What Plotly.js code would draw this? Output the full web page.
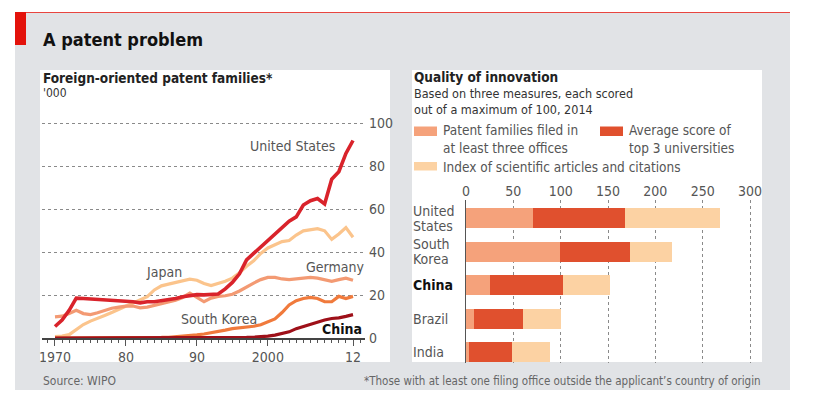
<!DOCTYPE html>
<html>
<head>
<meta charset="utf-8">
<script src="https://cdn.plot.ly/plotly-3.0.1.min.js"></script>
<style>html,body{margin:0;padding:0;background:#fff;}#chart{width:814px;height:404px;}</style>
</head>
<body>
<div id="chart"></div>
<script>
// ---------- Data: foreign-oriented patent families ('000) ----------
const years = [];
for (let y = 1970; y <= 2012; y++) years.push(y);

const usValues = [5.5, 8.5, 13, 18.7, 18.5, 18.3, 18, 18.2, 18, 17.8,
  17.5, 17, 16.5, 17, 17, 17.4, 17.8, 18.5, 19.3, 19.8,
  20.3, 20.2, 20.4, 20.6, 23, 26, 30, 36.5, 39.5, 42.5,
  46, 49, 52, 54.5, 56.5, 62, 64, 65, 62.5, 74,
  77.5, 86, 92];
const japanValues = [0.8, 1, 1.7, 4, 6.4, 8, 9.5, 10.6, 12, 13.4,
  15, 16.3, 17.7, 19.4, 22.5, 24.4, 25.2, 26, 26.7, 27.5,
  27, 25.5, 24.5, 25.5, 26.5, 28, 30.5, 33.5, 36, 39.5,
  42, 43.5, 45, 45.5, 48, 50, 50.5, 51, 50, 46,
  48.5, 51.5, 47];
const germanyValues = [10, 10.3, 11.5, 13, 11.5, 11, 11.9, 13, 14, 14.5,
  15, 15, 14.2, 14.5, 15.3, 15.8, 16.6, 17.7, 19, 21,
  19, 17, 18.7, 19.5, 19.8, 20.5, 22, 24, 25.7, 27.3,
  28.3, 28.3, 27.6, 27.3, 27.6, 28, 28.3, 28, 27.3, 26.5,
  27.3, 28, 27];
const koreaValues = [0.1, 0.1, 0.1, 0.1, 0.1, 0.1, 0.1, 0.1, 0.1, 0.2,
  0.2, 0.2, 0.2, 0.3, 0.3, 0.4, 0.5, 0.7, 0.9, 1.2,
  1.6, 2.0, 2.5, 3.0, 3.8, 4.5, 4.8, 5.2, 5.6, 6.3,
  7.5, 9, 12, 15.5, 17.5, 18.5, 19, 18.5, 17, 17,
  19.5, 18.5, 19.5];
const chinaValues = [0.05, 0.05, 0.05, 0.05, 0.05, 0.05, 0.05, 0.05, 0.05, 0.05,
  0.05, 0.05, 0.05, 0.05, 0.05, 0.05, 0.05, 0.05, 0.05, 0.05,
  0.05, 0.1, 0.1, 0.15, 0.2, 0.25, 0.3, 0.4, 0.5, 0.7,
  1.0, 1.5, 2.2, 3.0, 4.5, 5.5, 6.3, 7.6, 8.5, 9.2,
  9.5, 10.2, 11];

const lineTickVals = [1970, 1980, 1990, 2000, 2012];
const lineTickText = ["1970", "80", "90", "2000", "12"];
const lineYTicks = [0, 20, 40, 60, 80, 100];

// ---------- Data: quality of innovation (2014) ----------
const countries = ["United States", "South Korea", "China", "Brazil", "India"];
const countryLabels = ["United<br>States", "South<br>Korea", "<b>China</b>", "Brazil", "India"];
const patentScores = [71, 99, 25, 8, 3];
const universityScores = [97, 74.5, 77, 52, 46];
const scienceScores = [100, 44, 50, 40, 40];
const barTickVals = [0, 50, 100, 150, 200, 250, 300];
const seriesNames = ["Patent families filed in<br>at least three offices",
  "Average score of<br>top 3 universities",
  "Index of scientific articles and citations"];

// ---------- Styling ----------
const W = 814, H = 404;
const fx = p => p / W;
const fy = p => 1 - p / H;
const FONT = '"DejaVu Sans Condensed", "Liberation Sans Narrow", Roboto, sans-serif';
const GREY = '#555';
const cUS = '#d9232b', cJP = '#fbc48c', cDE = '#f39a73', cKR = '#f07a3c', cCN = '#9e1019';
const cPat = '#f5a27b', cUni = '#e0502e', cSci = '#fcd2a3';

function line(y, color, width, name) {
  return {type: 'scatter', mode: 'lines', x: years, y: y, name: name,
    line: {color: color, width: width, shape: 'linear'}, xaxis: 'x', yaxis: 'y',
    hoverinfo: 'skip', showlegend: false};
}
const traces = [
  line(japanValues, cJP, 3.2, 'Japan'),
  line(germanyValues, cDE, 3.2, 'Germany'),
  line(koreaValues, cKR, 3.2, 'South Korea'),
  line(usValues, cUS, 3.6, 'United States'),
  line(chinaValues, cCN, 3.2, 'China')
];
function bar(vals, color, name) {
  return {type: 'bar', orientation: 'h', y: countries, x: vals, name: name,
    marker: {color: color, line: {width: 0}}, xaxis: 'x2', yaxis: 'y2',
    width: 0.6, hoverinfo: 'skip', showlegend: false};
}
traces.push(bar(patentScores, cPat, seriesNames[0]));
traces.push(bar(universityScores, cUni, seriesNames[1]));
traces.push(bar(scienceScores, cSci, seriesNames[2]));

const shapes = [
  {type: 'rect', xref: 'paper', yref: 'paper', x0: fx(15), x1: fx(790), y0: fy(390), y1: fy(12), fillcolor: '#e1e3e6', line: {width: 0}, layer: 'below'},
  {type: 'line', xref: 'paper', yref: 'paper', x0: fx(15), x1: fx(790), y0: fy(12.5), y1: fy(12.5), line: {color: '#e8453f', width: 1}, layer: 'below'},
  {type: 'rect', xref: 'paper', yref: 'paper', x0: fx(15), x1: fx(26), y0: fy(45), y1: fy(12), fillcolor: '#e3120b', line: {width: 0}, layer: 'below'},
  {type: 'rect', xref: 'paper', yref: 'paper', x0: fx(40), x1: fx(390), y0: fy(362), y1: fy(70), fillcolor: '#ffffff', line: {width: 0}, layer: 'below'},
  {type: 'rect', xref: 'paper', yref: 'paper', x0: fx(412), x1: fx(762), y0: fy(362), y1: fy(70), fillcolor: '#ffffff', line: {width: 0}, layer: 'below'},
  // legend swatches
  {type: 'rect', xref: 'paper', yref: 'paper', x0: fx(414), x1: fx(437), y0: fy(136), y1: fy(126.5), fillcolor: cPat, line: {width: 0}},
  {type: 'rect', xref: 'paper', yref: 'paper', x0: fx(600), x1: fx(623), y0: fy(136), y1: fy(126.5), fillcolor: cUni, line: {width: 0}},
  {type: 'rect', xref: 'paper', yref: 'paper', x0: fx(414), x1: fx(437), y0: fy(170.5), y1: fy(162), fillcolor: cSci, line: {width: 0}}
];

function txt(text, px, py, size, opts) {
  return Object.assign({xref: 'paper', yref: 'paper', x: fx(px), y: fy(py), text: text,
    showarrow: false, xanchor: 'left', yanchor: 'middle', align: 'left',
    font: {family: FONT, size: size, color: '#222'}}, opts || {});
}
const annotations = [
  txt('A patent problem', 41, 40, 18, {font: {family: FONT, size: 18, color: '#111', weight: 'bold'}}),
  txt('<b>Foreign-oriented patent families*</b>', 41, 78, 13.5),
  txt("'000", 41, 93, 12, {font: {family: FONT, size: 12, color: '#333'}}),
  txt('<b>Quality of innovation</b>', 412, 77, 13.5),
  txt('Based on three measures, each scored<br>out of a maximum of 100, 2014', 412, 101, 12.5, {font: {family: FONT, size: 12.5, color: '#333'}}),
  txt(seriesNames[0], 441, 139, 13.5, {font: {family: FONT, size: 13.5, color: GREY}}),
  txt(seriesNames[1], 627, 139, 13.5, {font: {family: FONT, size: 13.5, color: GREY}}),
  txt(seriesNames[2], 441, 166.5, 13.5, {font: {family: FONT, size: 13.5, color: GREY}}),
  txt('Source: WIPO', 41, 381, 12, {font: {family: FONT, size: 12, color: '#666'}}),
  txt("*Those with at least one filing office outside the applicant’s country of origin", 763, 381, 11.5, {xanchor: 'right', font: {family: FONT, size: 11.5, color: '#666'}}),
  // line labels
  {xref: 'x', yref: 'y', x: 2009.8, y: 89.5, text: 'United States', xanchor: 'right', showarrow: false, font: {family: FONT, size: 14, color: GREY}},
  {xref: 'x', yref: 'y', x: 1985.4, y: 31, text: 'Japan', showarrow: false, font: {family: FONT, size: 14, color: GREY}},
  {xref: 'x', yref: 'y', x: 2009.5, y: 33.3, text: 'Germany', showarrow: false, font: {family: FONT, size: 14, color: GREY}},
  {xref: 'x', yref: 'y', x: 1993.1, y: 8.8, text: 'South Korea', showarrow: false, font: {family: FONT, size: 14, color: GREY}},
  {xref: 'x', yref: 'y', x: 2010.4, y: 4.3, text: '<b>China</b>', showarrow: false, font: {family: FONT, size: 14, color: '#111'}}
];
// bar category labels (left aligned, tight line spacing)
countries.forEach((c, i) => {
  const parts = countryLabels[i].split('<br>');
  parts.forEach((p, k) => {
    const shift = (parts.length - 1) * 7.5 - k * 15;
    annotations.push({xref: 'paper', yref: 'y2', x: fx(411), y: c, yshift: shift, text: p,
      xanchor: 'left', yanchor: 'middle', align: 'left', showarrow: false,
      font: {family: FONT, size: 14, color: i === 2 ? '#111' : GREY}});
  });
});

const layout = {
  width: W, height: H, autosize: false,
  margin: {l: 0, r: 0, t: 0, b: 0, pad: 0},
  paper_bgcolor: '#ffffff', plot_bgcolor: 'rgba(0,0,0,0)',
  font: {family: FONT, color: GREY, size: 13},
  showlegend: false, barmode: 'stack', bargap: 0.4,
  xaxis: {domain: [fx(42), fx(365)], range: [1968.17, 2013.69], anchor: 'free', position: fy(338.3),
    tickmode: 'array', tickvals: lineTickVals, ticktext: lineTickText,
    ticks: 'outside', ticklen: 6, tickwidth: 1, tickcolor: GREY,
    minor: {tick0: 1970, dtick: 1, ticks: 'outside', ticklen: 3.5, tickcolor: GREY, tickwidth: 1, showgrid: false},
    showline: true, linecolor: '#444', linewidth: 1.3, showgrid: false, zeroline: false,
    tickfont: {family: FONT, size: 14, color: GREY}, fixedrange: true},
  yaxis: {domain: [fy(342.6), fy(112.55)], range: [-2, 105], anchor: 'x', side: 'right',
    tickmode: 'array', tickvals: lineYTicks, ticks: '', showline: false, zeroline: false,
    showgrid: true, gridcolor: '#8a8a8a', griddash: 'dot', gridwidth: 1,
    ticklabelstandoff: 3, tickfont: {family: FONT, size: 14, color: GREY}, fixedrange: true},
  xaxis2: {domain: [fx(466), fx(758)], range: [0, 308.4], anchor: 'y2', side: 'top',
    tickmode: 'array', tickvals: barTickVals, ticks: '', showline: false, zeroline: false,
    showgrid: true, gridcolor: '#8a8a8a', griddash: 'dot', gridwidth: 1,
    tickfont: {family: FONT, size: 14, color: GREY}, fixedrange: true},
  yaxis2: {domain: [fy(363), fy(200)], range: [4.32, -0.55], anchor: 'x2', type: 'category',
    categoryorder: 'array', categoryarray: countries,
    showticklabels: false, ticks: '', showgrid: false, zeroline: false,
    showline: true, linecolor: '#555', linewidth: 1.3, fixedrange: true},
  shapes: shapes,
  annotations: annotations
};

Plotly.newPlot('chart', traces, layout, {staticPlot: true, displayModeBar: false});
</script>
</body>
</html>
